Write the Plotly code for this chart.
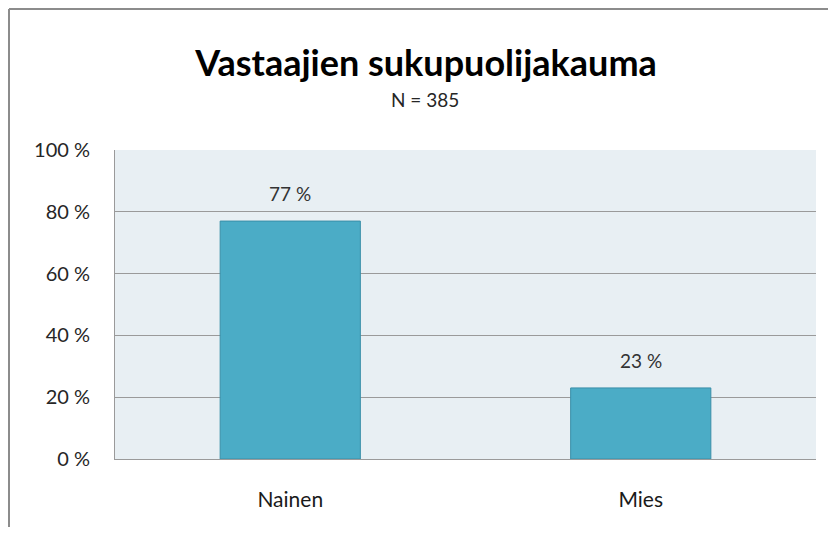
import plotly.graph_objects as go

categories = ["Nainen", "Mies"]
shares = [77, 23]
tick_vals = [0, 20, 40, 60, 80, 100]
tick_text = [f"{v} %" for v in tick_vals]

FONT = "Lato"

# the page puts the figure 8px in from the top-left corner, so the size is trimmed to fit the window
W, H = 820, 519
L, T, R, B = 107, 142, 12, 68
PW, PH = W - L - R, H - T - B

fig = go.Figure()

fig.add_trace(go.Bar(
    x=categories,
    y=shares,
    marker=dict(color="#4BACC6", line=dict(color="#3A8FA8", width=1)),
    hovertemplate="%{x}: %{y} %<extra></extra>",
))

# value labels sit a bit higher above the bars than plotly's "outside" text
labels = [dict(
    x=c, y=v, text=f"{v} %",
    xref="x", yref="y", yanchor="bottom", yshift=14,
    showarrow=False,
    font=dict(family=FONT, size=19, color="#333333"),
) for c, v in zip(categories, shares)]

fig.update_layout(
    width=W,
    height=H,
    margin=dict(l=L, r=R, t=T, b=B),
    paper_bgcolor="white",
    plot_bgcolor="#E8EFF3",
    bargap=0.6,
    showlegend=False,
    font=dict(family=FONT, size=19, color="#262626"),
    title=dict(
        text="<b>Vastaajien sukupuolijakauma</b>",
        x=418 / W, xanchor="center",
        y=1 - 55 / H, yanchor="middle",
        font=dict(family=FONT, size=36, color="black"),
    ),
    xaxis=dict(
        showgrid=False,
        showline=True, linecolor="#9A9A9A", linewidth=1,
        ticks="", ticklabelstandoff=22,
        tickfont=dict(family=FONT, size=21, color="#1A1A1A"),
    ),
    yaxis=dict(
        range=[0, 100],
        tickvals=tick_vals, ticktext=tick_text,
        showgrid=True, gridcolor="#9A9A9A", gridwidth=1,
        showline=True, linecolor="#9A9A9A", linewidth=1,
        zeroline=False, ticks="", ticklabelstandoff=20,
        tickfont=dict(family=FONT, size=20, color="#262626"),
    ),
    annotations=labels + [dict(
        text="N = 385",
        xref="paper", yref="paper",
        x=(417 - L) / PW, y=1 + 50 / PH,
        xanchor="center", yanchor="middle",
        showarrow=False,
        font=dict(family=FONT, size=19, color="#262626"),
    )],
    shapes=[
        dict(type="line", xref="paper", yref="paper",
             x0=-(L - 1) / PW, x1=(PW + R) / PW, y0=1 + (T - 1) / PH, y1=1 + (T - 1) / PH,
             line=dict(color="#8C8C8C", width=2)),
        dict(type="line", xref="paper", yref="paper",
             x0=-(L - 1) / PW, x1=-(L - 1) / PW, y0=1 + (T - 1) / PH, y1=-B / PH,
             line=dict(color="#8C8C8C", width=2)),
    ],
)

fig.write_html("out.html")
